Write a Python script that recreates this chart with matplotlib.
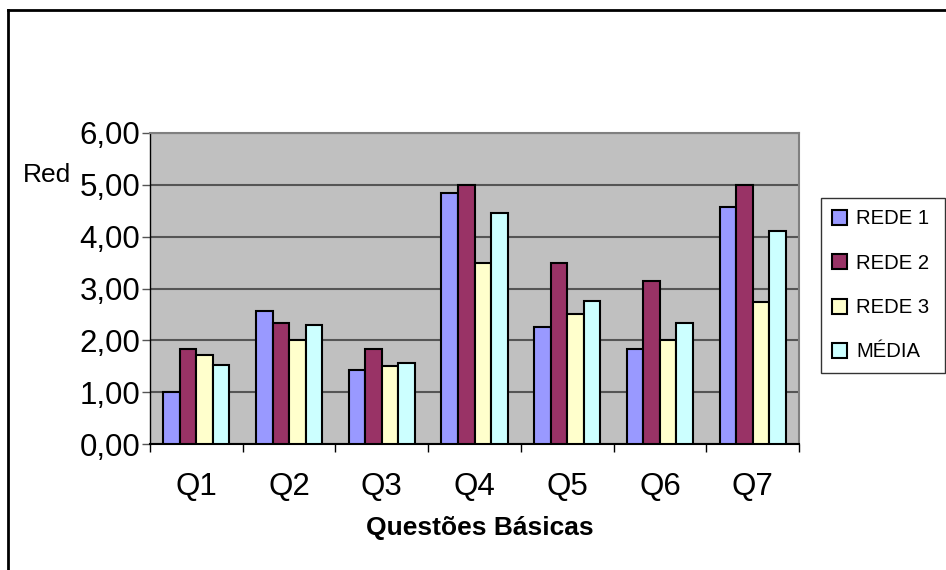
import matplotlib
matplotlib.use('Agg')
import matplotlib.pyplot as plt
import numpy as np
from matplotlib.ticker import FuncFormatter, FixedLocator

plt.rcParams['font.family'] = ['Liberation Sans', 'DejaVu Sans']

questions = ['Q1', 'Q2', 'Q3', 'Q4', 'Q5', 'Q6', 'Q7']
rede_1 = [1.00, 2.57, 1.42, 4.85, 2.26, 1.84, 4.57]
rede_2 = [1.84, 2.34, 1.84, 5.00, 3.50, 3.15, 5.00]
rede_3 = [1.72, 2.00, 1.50, 3.50, 2.50, 2.00, 2.73]
media = [1.53, 2.30, 1.57, 4.45, 2.76, 2.34, 4.11]
series_names = ['REDE 1', 'REDE 2', 'REDE 3', 'MÉDIA']
series_colors = ['#9999ff', '#993366', '#ffffcc', '#ccffff']


def make_plot():
    fig = plt.figure(figsize=(9.46, 5.70), dpi=100)
    ax = fig.add_axes([150 / 946, 1 - 444 / 570, 649 / 946, 311 / 570])
    ax.set_facecolor('#c0c0c0')

    x = np.arange(len(questions))
    width = 0.178
    all_series = [rede_1, rede_2, rede_3, media]
    for ith, values in enumerate(all_series):
        ax.bar(x + (ith - 1.5) * width, values, width, color=series_colors[ith],
               edgecolor='black', linewidth=1.5, label=series_names[ith], zorder=3)

    ax.set_xlim(-0.5, len(questions) - 0.5)
    ax.set_ylim(0, 6)
    ax.set_yticks(np.arange(0, 7, 1))
    ax.yaxis.set_major_formatter(FuncFormatter(lambda v, p: ('%.2f' % v).replace('.', ',')))
    ax.yaxis.grid(True, color='#555555', linewidth=1.5, zorder=1)
    ax.tick_params(axis='y', direction='out', length=6, width=1, color='#555555',
                   labelsize=22.5, pad=1)

    ax.xaxis.set_major_locator(FixedLocator(np.arange(-0.5, len(questions), 1)))
    ax.xaxis.set_minor_locator(FixedLocator(x))
    ax.set_xticklabels([], minor=False)
    ax.set_xticklabels(questions, minor=True)
    ax.tick_params(axis='x', which='major', direction='out', length=6, width=1)
    ax.tick_params(axis='x', which='minor', length=0, labelsize=22.5, pad=20)

    for side in ['top', 'right']:
        ax.spines[side].set_color('#808080')
        ax.spines[side].set_linewidth(1.5)
    ax.spines['left'].set_linewidth(1)
    ax.spines['bottom'].set_linewidth(1.5)

    fig.text(480 / 946, 1 - 528 / 570, 'Questões Básicas', fontsize=19, fontweight='bold',
             ha='center', va='center')
    fig.text(47 / 946, 1 - 175 / 570, 'Red', fontsize=19, ha='center', va='center')

    leg = fig.legend(loc='upper left', bbox_to_anchor=(821 / 946, 1 - 204 / 570, 124 / 946, 0.01),
                     mode='expand', fontsize=14.6, frameon=True, fancybox=False,
                     handlelength=0.75, handleheight=0.75, handletextpad=0.45,
                     labelspacing=1.25, borderpad=0.55, borderaxespad=0)
    leg.get_frame().set_edgecolor('black')
    leg.get_frame().set_linewidth(1)

    # chart border (only top and left visible in the cropped original)
    fig.add_artist(plt.Line2D([8 / 946, 8 / 946], [0, 1 - 10 / 570], color='black', linewidth=2))
    fig.add_artist(plt.Line2D([8 / 946, 1], [1 - 10 / 570, 1 - 10 / 570], color='black', linewidth=2))

    plt.savefig('out.png', dpi=100)
    plt.close()


def main():
    make_plot()


if __name__ == '__main__':
    main()
